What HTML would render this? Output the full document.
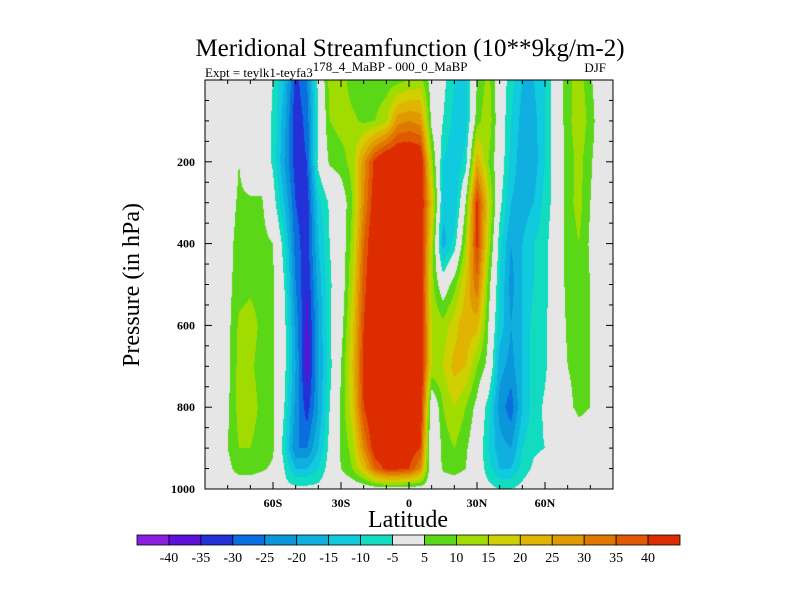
<!DOCTYPE html>
<html><head><meta charset="utf-8">
<style>
html,body{margin:0;padding:0;background:#fff;}
#wrap{position:relative;width:800px;height:600px;overflow:hidden;font-family:"Liberation Serif",serif;}
canvas{position:absolute;left:205px;top:80px;}
svg{position:absolute;left:0;top:0;}
</style></head>
<body>
<div id="wrap">
<canvas id="cv" width="408" height="409"></canvas>
<svg id="sv" width="800" height="600">
<text x="410" y="56" text-anchor="middle" font-size="25" font-family="Liberation Serif">Meridional Streamfunction (10**9kg/m-2)</text>
<text x="205" y="77" font-size="13" font-family="Liberation Serif">Expt = teylk1-teyfa3<tspan dy="-6">178_4_MaBP - 000_0_MaBP</tspan></text>
<text x="606" y="72" text-anchor="end" font-size="13" font-family="Liberation Serif">DJF</text>
<text x="408" y="527" text-anchor="middle" font-size="24" font-family="Liberation Serif">Latitude</text>
<text transform="translate(139,285) rotate(-90)" text-anchor="middle" font-size="24" font-family="Liberation Serif">Pressure (in hPa)</text>
<g id="axes"></g>
<g id="cbar"></g>
</svg>
</div>
<script>
const lats=[-90,-85,-80,-75,-70,-65,-60,-55,-50,-45,-40,-35,-30,-25,-20,-15,-10,-5,0,5,10,15,20,25,30,35,40,45,50,55,60,65,70,75,80,85,90];
const pres=[0,100,200,300,400,500,600,700,800,900,950,1000];
const row0=[0,0,0,5,2,0,-5,-15,-32,-25,-3,12,12,8,7,7,7,8,10,12,2,-3,-10,-12,5,12,0,-8,-15,-15,-10,0,8,13,6,0,0];
const row100=[0,0,0,5,2,0,-6,-18,-34,-28,-5,10,12,11,9,10,14,28,30,28,3,-5,-12,-12,8,14,0,-10,-17,-17,-10,0,8,14,8,0,0];
const row200=[0,0,0,5,0,0,-6,-20,-33,-30,-3,6,8,12,28,42,50,50,50,48,12,-10,-15,-8,24,10,0,-12,-18,-18,-10,0,7,12,6,0,0];
const row300=[0,0,2,6,6,6,-2,-15,-30,-33,-12,-4,0,10,30,45,50,50,50,48,20,-12,-15,5,42,18,-3,-15,-18,-15,-8,-2,8,12,5,0,0];
const row400=[0,0,3,7,8,7,5,-8,-28,-33,-15,-5,0,12,35,48,50,50,50,48,15,-18,-8,12,42,14,-8,-20,-15,-10,-7,0,7,10,4,0,0];
const row500=[0,0,3,8,9,8,6,-5,-25,-35,-18,-6,0,15,38,48,50,50,50,48,12,0,8,20,34,8,-10,-22,-15,-10,-7,0,7,8,5,0,0];
const row600=[0,0,3,11,12,9,6,-3,-22,-37,-20,-6,2,18,40,48,50,50,50,48,15,12,18,24,22,5,-12,-20,-15,-8,-6,0,6,7,5,0,0];
const row700=[0,0,3,12,11,8,6,-3,-20,-38,-20,-7,5,20,42,48,50,50,50,48,15,15,22,20,10,3,-18,-22,-15,-8,-6,0,5,6,5,0,0];
const row800=[0,0,4,12,12,9,6,-5,-22,-33,-20,-5,6,18,40,48,50,50,50,48,-3,10,15,10,3,-8,-22,-28,-15,-8,-4,0,4,6,5,0,0];
const row900=[0,0,5,10,10,8,6,-8,-25,-25,-15,-3,6,12,30,45,48,48,45,40,-5,7,10,6,0,-10,-18,-20,-10,-6,-5,0,0,2,2,0,0];
const row950=[0,0,3,8,8,6,4,-5,-15,-15,-10,-2,5,10,20,35,42,42,40,30,-3,6,8,5,0,-8,-15,-15,-8,-4,-2,0,0,0,0,0,0];
const row1000=[0,0,-1,-1,-1,-1,0,-3,-3,-3,-3,0,-1,0,0,1,2,2,1,1,0,-1,-1,-1,0,-3,-5,-5,-3,0,0,0,0,0,0,0,0];
const grid=[row0,row100,row200,row300,row400,row500,row600,row700,row800,row900,row950,row1000];
const levels=[-40,-35,-30,-25,-20,-15,-10,-5,5,10,15,20,25,30,35,40];
const colors=["#8a1ee0","#5c10d8","#2232d6","#0a6ee0","#0a96d8","#0fb0e0","#10cadd","#12dcc0","#e6e6e6","#5ad818","#a0dc00","#d0d000","#e0b400","#e09a00","#e07800","#e05800","#dc2c00"];
const cbLabels=["-40","-35","-30","-25","-20","-15","-10","-5","5","10","15","20","25","30","35","40"];
const xTickLats=[-60,-30,0,30,60];
const xTickLabels=["60S","30S","0","30N","60N"];
const yTickVals=[200,400,600,800,1000];

const PX0=205,PX1=613,PY0=80,PY1=489;
function xOf(lat){return PX0+(lat+90)/180*(PX1-PX0);}
function yOf(p){return PY0+p/1000*(PY1-PY0);}
function hex(c){return [parseInt(c.substr(1,2),16),parseInt(c.substr(3,2),16),parseInt(c.substr(5,2),16)];}
function findIdx(arr,v){let i=0;while(i<arr.length-2&&v>arr[i+1])i++;return i;}
function sample(lat,p){
  const i=findIdx(lats,lat),j=findIdx(pres,p);
  const tx=Math.min(1,Math.max(0,(lat-lats[i])/(lats[i+1]-lats[i])));
  const ty=Math.min(1,Math.max(0,(p-pres[j])/(pres[j+1]-pres[j])));
  const a=grid[j][i],b=grid[j][i+1],c=grid[j+1][i],d=grid[j+1][i+1];
  return (a*(1-tx)+b*tx)*(1-ty)+(c*(1-tx)+d*tx)*ty;
}
const cv=document.getElementById('cv');const ctx=cv.getContext('2d');
const W=cv.width,H=cv.height;const img=ctx.createImageData(W,H);
const rgb=colors.map(hex);
for(let y=0;y<H;y++){const p=(y+0.5)/H*1000;
  for(let x=0;x<W;x++){const lat=-90+(x+0.5)/W*180;const v=sample(lat,p);
    let k=0;while(k<levels.length&&v>=levels[k])k++;const c=rgb[k];const o=(y*W+x)*4;
    img.data[o]=c[0];img.data[o+1]=c[1];img.data[o+2]=c[2];img.data[o+3]=255;}}
ctx.putImageData(img,0,0);

const NS="http://www.w3.org/2000/svg";
function mk(tag,attrs,parent){const e=document.createElementNS(NS,tag);for(const k in attrs)e.setAttribute(k,attrs[k]);parent.appendChild(e);return e;}
const ax=document.getElementById('axes');
const frame=mk('rect',{x:PX0,y:PY0,width:PX1-PX0,height:PY1-PY0,fill:'none',stroke:'#000','stroke-width':1},ax);


for(let p=50;p<1000;p+=50){const y=yOf(p);const L=(p%200===0)?7:4;
  const t1=mk('line',{x1:PX0,y1:y,x2:PX0+L,y2:y,stroke:'#000','stroke-width':1},ax);
  
  
  const t2=mk('line',{x1:PX1,y1:y,x2:PX1-L,y2:y,stroke:'#000','stroke-width':1},ax);
  
  }
for(let l=-80;l<90;l+=10){const x=xOf(l);const L=(l%30===0)?7:4;
  const t1=mk('line',{x1:x,y1:PY1,x2:x,y2:PY1-L,stroke:'#000','stroke-width':1},ax);
  
  
  const t2=mk('line',{x1:x,y1:PY0,x2:x,y2:PY0+L,stroke:'#000','stroke-width':1},ax);
  
  }
yTickVals.forEach(v=>{const t=mk('text',{x:PX0-10,y:yOf(v)+4,'text-anchor':'end','font-size':12,'font-weight':'bold','font-family':'Liberation Serif'},ax);t.textContent=String(v);
  
  });
xTickLats.forEach((l,i)=>{const t=mk('text',{x:xOf(l),y:507,'text-anchor':'middle','font-size':12,'font-weight':'bold','font-family':'Liberation Serif'},ax);t.textContent=xTickLabels[i];
  
  });
const cb=document.getElementById('cbar');const CB0=137,CB1=680,CBY=535,CBH=10;const bw=(CB1-CB0)/colors.length;
colors.forEach((c,i)=>{const r=mk('rect',{x:CB0+i*bw,y:CBY,width:bw,height:CBH,fill:c,stroke:'#000','stroke-width':0.8},cb);
  
  });
cbLabels.forEach((s,i)=>{const t=mk('text',{x:CB0+(i+1)*bw,y:562,'text-anchor':'middle','font-size':14,'font-family':'Liberation Serif'},cb);t.textContent=s;
  
  });
</script>
</body></html>
